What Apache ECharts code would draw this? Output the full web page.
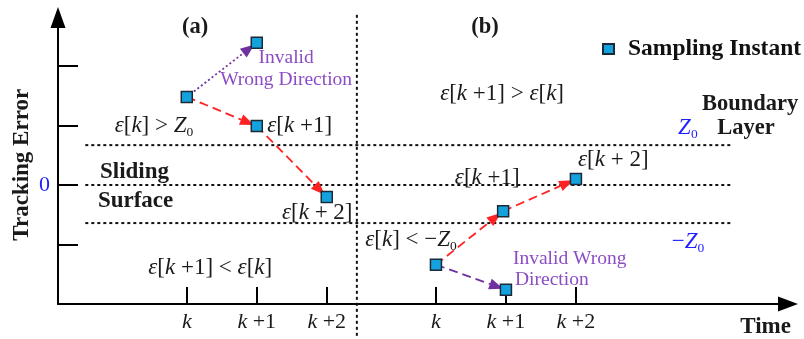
<!DOCTYPE html>
<html><head><meta charset="utf-8">
<script src="https://cdn.jsdelivr.net/npm/echarts@6/dist/echarts.min.js"></script>
<style>html,body{margin:0;padding:0;background:#fff}#c{width:804px;height:339px}</style>
</head><body><div id="c"></div>
<script>
// ---- data ----
const xTickPos = [1.84, 2.84, 3.84, 5.4, 6.4, 7.4];
const xTickLabels = ['k', 'k+1', 'k+2', 'k', 'k+1', 'k+2'];
const yTickPos = [-1, 0, 1, 2];
const yLabelPos = [0];
const pointsX = [1.84, 2.84, 2.84, 3.84, 5.4, 6.4, 6.36, 7.4];
const pointsY = [1.48, 2.39, 0.99, -0.2, -1.34, -1.76, -0.44, 0.1];
const arrowFrom = [0, 0, 2, 4, 4, 6];
const arrowTo = [2, 1, 3, 6, 5, 7];
const arrowKind = [0, 1, 0, 0, 2, 0];
const guideLevels = [0.67, 0, -0.64];
const guideXStart = 0.39, guideXEnd = 9.64;
const dividerX = 4.27, dividerYTop = 2.86, dividerYBottom = -2.54;

// ---- styling ----
const F = 'Liberation Serif';
const RED = '#ff2222', PURPLE = '#7030a0', PTEXT = '#8c4cc4', BLUE = '#1f1fff', INK = '#1a1a1a';
const arrowStyles = [
  {color: RED, dash: [9, 5]},
  {color: PURPLE, dash: [2, 2.5]},
  {color: PURPLE, dash: [9, 5]}
];
const rich = {
  i: {fontFamily: F, fontStyle: 'italic', fontSize: 23, lineHeight: 27},
  r: {fontFamily: F, fontSize: 23, lineHeight: 27},
  s: {fontFamily: F, fontSize: 13.5, lineHeight: 13, verticalAlign: 'bottom'},
  b: {fontFamily: F, fontWeight: 'bold', fontSize: 22.5, lineHeight: 26},
  t: {fontFamily: F, fontWeight: 'bold', fontSize: 23, lineHeight: 26},
  p: {fontFamily: F, fontSize: 19.5, lineHeight: 22}
};
const eps = (inner) => '{i|ε}{r|[}' + inner + '{r|]}';
// annotations: [x, y, text, align, color, rotation]
const annotations = [
  [1.96, 2.66, '{b|(a)}', 'center', INK, 0],
  [6.10, 2.66, '{b|(b)}', 'center', INK, 0],
  [3.26, 2.13, '{p|Invalid}', 'center', PTEXT, 0],
  [3.26, 1.76, '{p|Wrong Direction}', 'center', PTEXT, 0],
  [0.81, 0.99, eps('{i|k}') + '{r| > }{i|Z}{s|0}', 'left', INK, 0],
  [2.99, 0.99, eps('{i|k}{r| +1}'), 'left', INK, 0],
  [0.60, 0.22, '{t|Sliding}', 'left', INK, 0],
  [0.57, -0.27, '{t|Surface}', 'left', INK, 0],
  [3.20, -0.47, eps('{i|k}{r| + 2}'), 'left', INK, 0],
  [1.29, -1.39, eps('{i|k}{r| +1}') + '{r| < }' + eps('{i|k}'), 'left', INK, 0],
  [5.46, 1.53, eps('{i|k}{r| +1}') + '{r| > }' + eps('{i|k}'), 'left', INK, 0],
  [9.89, 1.36, '{b|Boundary}', 'center', INK, 0],
  [9.83, 0.96, '{b|Layer}', 'center', INK, 0],
  [8.86, 0.96, '{i|Z}{s|0}', 'left', BLUE, 0],
  [7.43, 0.42, eps('{i|k}{r| + 2}'), 'left', INK, 0],
  [5.67, 0.12, eps('{i|k}{r| +1}'), 'left', INK, 0],
  [4.39, -0.92, eps('{i|k}') + '{r| < −}{i|Z}{s|0}', 'left', INK, 0],
  [8.77, -0.96, '{r|−}{i|Z}{s|0}', 'left', BLUE, 0],
  [6.50, -1.24, '{p|Invalid Wrong}', 'left', PTEXT, 0],
  [6.53, -1.60, '{p|Direction}', 'left', PTEXT, 0],
  [10.11, -2.39, '{t|Time}', 'center', INK, 0],
  [-0.51, 0.34, '{t|Tracking Error}', 'center', INK, Math.PI / 2]
];

const points = pointsX.map((x, i) => [x, pointsY[i]]);
const arrows = arrowFrom.map((f, i) => [pointsX[f], pointsY[f], pointsX[arrowTo[i]], pointsY[arrowTo[i]], arrowKind[i]]);
const guides = guideLevels.map(v => [guideXStart, v, guideXEnd, v]);
guides.push([dividerX, dividerYTop, dividerX, dividerYBottom]);

function xLabel(v) {
  let idx = xTickPos.findIndex(t => Math.abs(t - v) < 1e-6);
  if (idx < 0) return '';
  const s = xTickLabels[idx];
  return '{i|k}' + (s.length > 1 ? '{r|' + s.slice(1).replace('+', ' +') + '}' : '');
}

const chart = echarts.init(document.getElementById('c'), null, {renderer: 'canvas'});
chart.setOption({
  animation: false,
  backgroundColor: '#fff',
  grid: {left: 58, right: 16, top: 17.5, bottom: 35},
  legend: {
    data: ['Sampling Instant'], left: 597, top: 32, icon: 'rect', itemWidth: 11, itemHeight: 10,
    textStyle: {fontFamily: F, fontWeight: 'bold', fontSize: 23.5, color: '#111', padding: [0, 0, 0, 9]}
  },
  xAxis: {
    type: 'value', min: 0, max: 10.43, splitLine: {show: false},
    axisLine: {onZero: false, lineStyle: {color: '#000', width: 2}, symbol: ['none', 'triangle'], symbolSize: [15, 20]},
    axisTick: {show: true, inside: true, length: 17, lineStyle: {color: '#000', width: 2}, customValues: xTickPos},
    axisLabel: {customValues: xTickPos, formatter: xLabel, margin: 7, rich: {
      i: {fontFamily: F, fontStyle: 'italic', fontSize: 22, color: INK},
      r: {fontFamily: F, fontSize: 22, color: INK}}}
  },
  yAxis: {
    type: 'value', min: -2, max: 2.815, splitLine: {show: false},
    axisLine: {onZero: false, lineStyle: {color: '#000', width: 2}, symbol: ['none', 'triangle'], symbolSize: [15, 21]},
    axisTick: {show: true, inside: true, length: 20, lineStyle: {color: '#000', width: 2}, customValues: yTickPos},
    axisLabel: {customValues: yLabelPos, margin: 8, fontFamily: F, fontSize: 22, color: BLUE}
  },
  series: [
    {
      type: 'custom', name: 'guides', silent: true, z: 1, data: guides,
      renderItem: (params, api) => {
        const a = api.coord([api.value(0), api.value(1)]);
        const b = api.coord([api.value(2), api.value(3)]);
        return {type: 'line', shape: {x1: a[0], y1: a[1], x2: b[0], y2: b[1]},
          style: {stroke: '#111', lineWidth: 2, lineDash: [3, 3]}};
      }
    },
    {
      type: 'custom', name: 'arrows', silent: true, z: 2, data: arrows,
      renderItem: (params, api) => {
        const a = api.coord([api.value(0), api.value(1)]);
        const b = api.coord([api.value(2), api.value(3)]);
        const st = arrowStyles[api.value(4)];
        const dx = b[0] - a[0], dy = b[1] - a[1], L = Math.hypot(dx, dy), ux = dx / L, uy = dy / L;
        const tip = [b[0] - ux * 3, b[1] - uy * 3];
        const hl = 14, hw = 5.5;
        const base = [tip[0] - ux * hl, tip[1] - uy * hl];
        const px = -uy, py = ux;
        return {type: 'group', children: [
          {type: 'line', shape: {x1: a[0], y1: a[1], x2: base[0], y2: base[1]}, style: {stroke: st.color, lineWidth: 1.8, lineDash: st.dash}},
          {type: 'polygon', shape: {points: [tip, [base[0] + px * hw, base[1] + py * hw], [base[0] - px * hw, base[1] - py * hw]]}, style: {fill: st.color}}
        ]};
      }
    },
    {
      type: 'scatter', name: 'Sampling Instant', z: 3, data: points, symbol: 'rect', symbolSize: 11,
      itemStyle: {color: '#14a2de', borderColor: '#1b2a36', borderWidth: 1.5, opacity: 1}
    },
    {
      type: 'custom', name: 'annotations', silent: true, z: 4, data: annotations.map((a, i) => [a[0], a[1], i]),
      renderItem: (params, api) => {
        const ann = annotations[api.value(2)];
        const p = api.coord([api.value(0), api.value(1)]);
        return {type: 'text', x: p[0], y: p[1], rotation: ann[5],
          style: {text: ann[2], rich: rich, fill: ann[4], align: ann[3], verticalAlign: 'middle'}};
      }
    }
  ]
});
</script></body></html>
